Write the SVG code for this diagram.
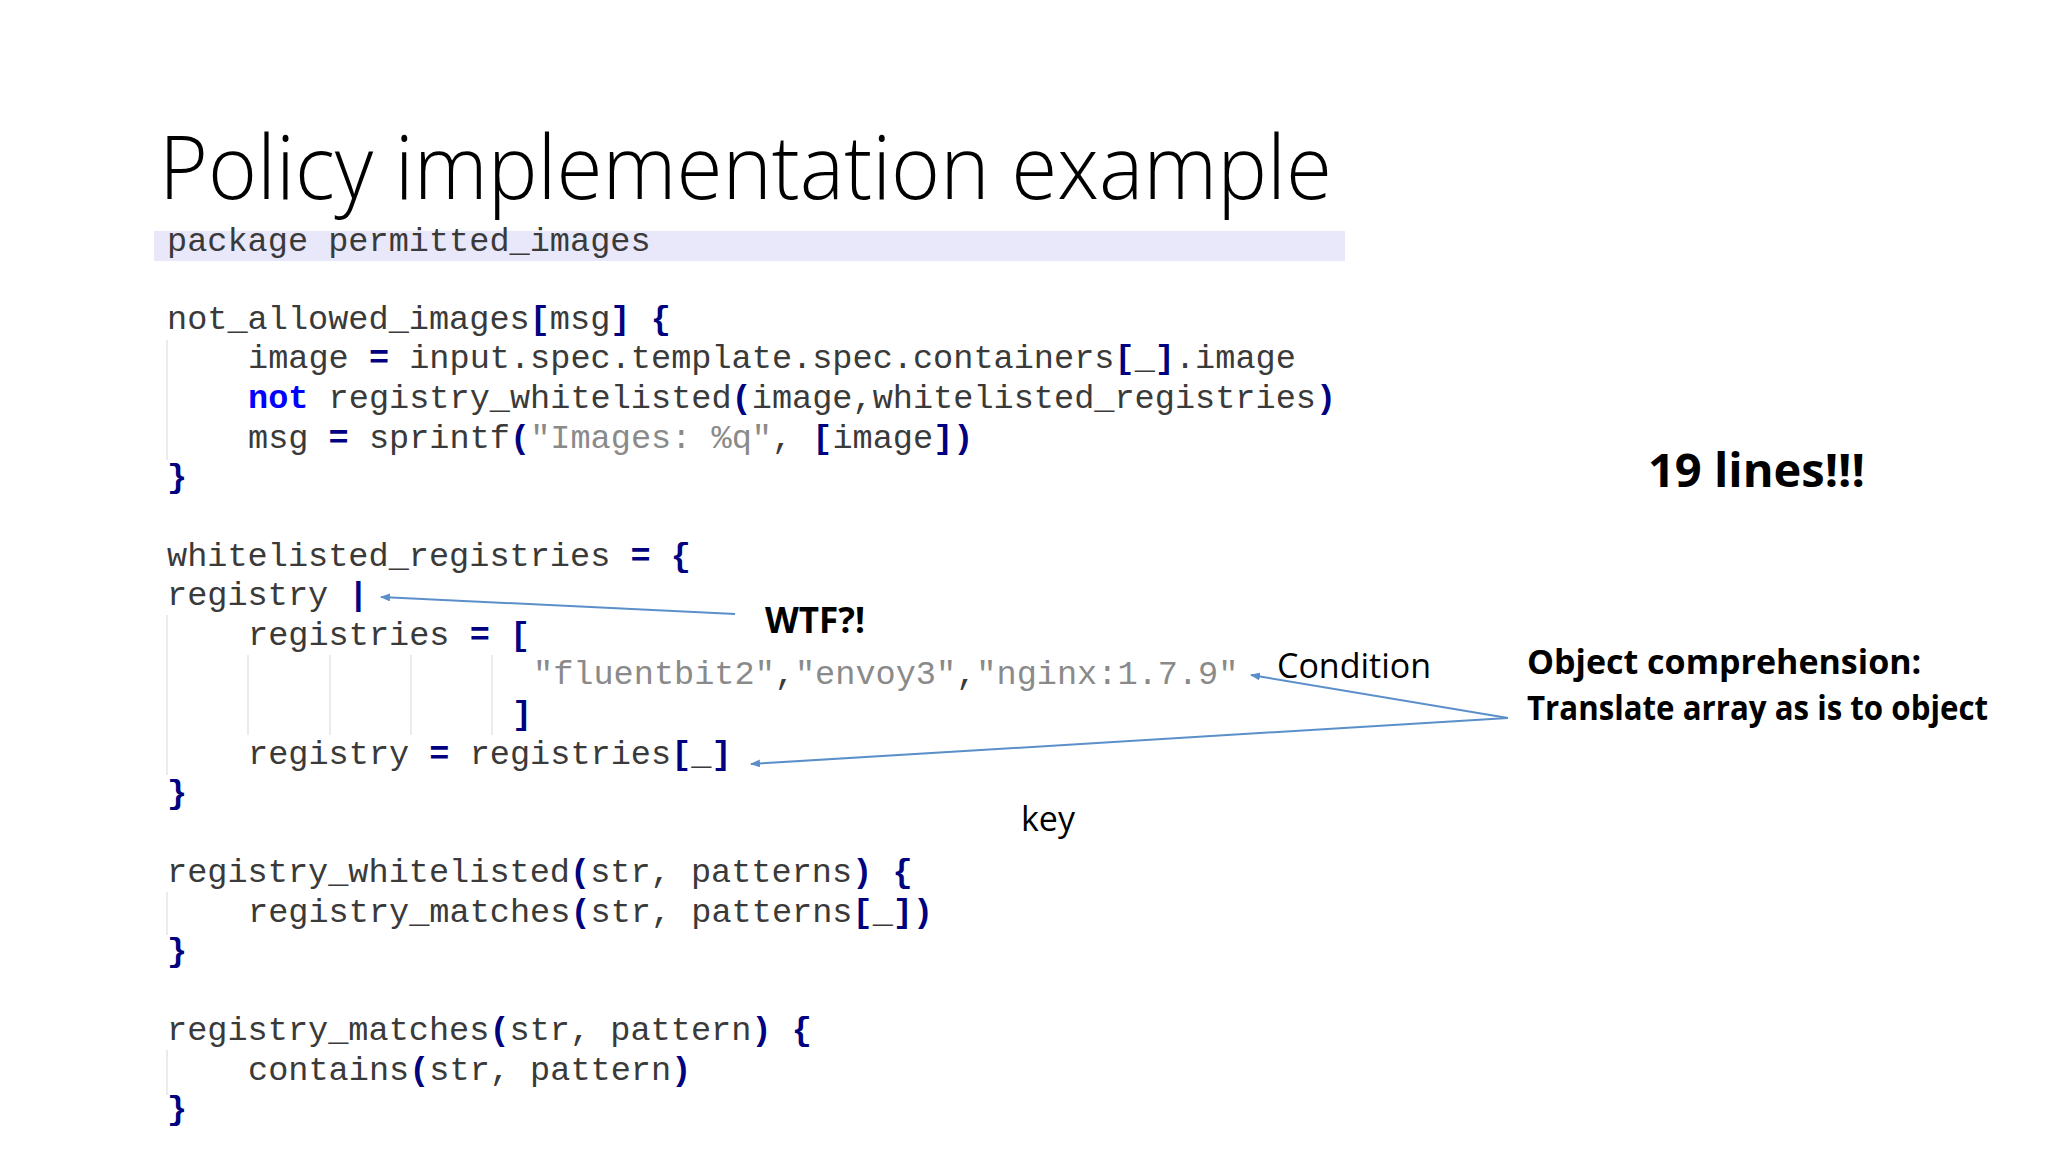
<svg xmlns="http://www.w3.org/2000/svg" width="2048" height="1152" viewBox="0 0 2048 1152">
<style>
.c{font-family:"Liberation Mono",monospace;font-size:33.6px;fill:#3a3a3a;white-space:pre}
.k{fill:#000080;font-weight:bold}
.n{fill:#0000ff;font-weight:bold}
.s{fill:#8a8a8a}
.lbl{font-family:"Open Sans","Liberation Sans",sans-serif;fill:#000}
.b{font-weight:bold}
.g{stroke:#e4e4e4;stroke-width:1.5}
.a{stroke:#5b8fc9;stroke-width:2;fill:none;marker-end:url(#ah)}
</style>
<defs><marker id="ah" markerWidth="10" markerHeight="8" refX="9" refY="4" orient="auto" markerUnits="userSpaceOnUse"><path d="M0,0 L10,4 L0,8 z" fill="#5b8fc9"/></marker></defs>
<rect width="2048" height="1152" fill="#fff"/>
<g id="title"><text x="159" y="199" class="lbl" font-size="88" font-weight="300" textLength="1173" lengthAdjust="spacingAndGlyphs">Policy implementation example</text></g>
<g id="code">
<rect x="154" y="231" width="1191" height="30" fill="#e8e8fa"/>
<line class="g" x1="167" y1="340" x2="167" y2="460"/>
<line class="g" x1="167" y1="615" x2="167" y2="775"/>
<line class="g" x1="248" y1="655" x2="248" y2="735"/>
<line class="g" x1="330" y1="655" x2="330" y2="735"/>
<line class="g" x1="411" y1="655" x2="411" y2="735"/>
<line class="g" x1="492" y1="655" x2="492" y2="735"/>
<line class="g" x1="167" y1="892" x2="167" y2="935"/>
<line class="g" x1="167" y1="1050" x2="167" y2="1095"/>
<text class="c" x="167" y="251">package permitted_images</text>
<text class="c" x="167" y="329">not_allowed_images<tspan class="k">[</tspan>msg<tspan class="k">]</tspan> <tspan class="k">{</tspan></text>
<text class="c" x="248" y="368">image <tspan class="k">=</tspan> input.spec.template.spec.containers<tspan class="k">[</tspan>_<tspan class="k">]</tspan>.image</text>
<text class="c" x="248" y="408"><tspan class="n">not</tspan> registry_whitelisted<tspan class="k">(</tspan>image,whitelisted_registries<tspan class="k">)</tspan></text>
<text class="c" x="248" y="448">msg <tspan class="k">=</tspan> sprintf<tspan class="k">(</tspan><tspan class="s">"Images: %q"</tspan>, <tspan class="k">[</tspan>image<tspan class="k">])</tspan></text>
<text class="c k" x="167" y="487">}</text>
<text class="c" x="167" y="566">whitelisted_registries <tspan class="k">=</tspan> <tspan class="k">{</tspan></text>
<text class="c" x="167" y="605">registry <tspan class="k">|</tspan></text>
<text class="c" x="248" y="645">registries <tspan class="k">=</tspan> <tspan class="k">[</tspan></text>
<text class="c" x="533" y="684"><tspan class="s">"fluentbit2"</tspan>,<tspan class="s">"envoy3"</tspan>,<tspan class="s">"nginx:1.7.9"</tspan></text>
<text class="c k" x="512" y="724">]</text>
<text class="c" x="248" y="764">registry <tspan class="k">=</tspan> registries<tspan class="k">[</tspan>_<tspan class="k">]</tspan></text>
<text class="c k" x="167" y="803">}</text>
<text class="c" x="167" y="882">registry_whitelisted<tspan class="k">(</tspan>str, patterns<tspan class="k">)</tspan> <tspan class="k">{</tspan></text>
<text class="c" x="248" y="922">registry_matches<tspan class="k">(</tspan>str, patterns<tspan class="k">[</tspan>_<tspan class="k">])</tspan></text>
<text class="c k" x="167" y="961">}</text>
<text class="c" x="167" y="1040">registry_matches<tspan class="k">(</tspan>str, pattern<tspan class="k">)</tspan> <tspan class="k">{</tspan></text>
<text class="c" x="248" y="1080">contains<tspan class="k">(</tspan>str, pattern<tspan class="k">)</tspan></text>
<text class="c k" x="167" y="1119">}</text>
</g>
<g id="n-lines"><text class="lbl b" x="1648" y="487" font-size="47">19 lines!!!</text></g>
<g id="n-wtf"><text class="lbl b" x="765" y="633" font-size="35">WTF?!</text></g>
<g id="n-condition"><text class="lbl" x="1277" y="678" font-size="34">Condition</text></g>
<g id="n-object"><text class="lbl b" x="1527" y="674" font-size="34">Object comprehension:</text><text class="lbl b" x="1527" y="720" font-size="34" textLength="461" lengthAdjust="spacingAndGlyphs">Translate array as is to object</text></g>
<g id="n-key"><text class="lbl" x="1021" y="831" font-size="34">key</text></g>
<g id="connectors">
<line class="a" x1="735" y1="614" x2="381" y2="597"/>
<line class="a" x1="1508" y1="718" x2="1251" y2="675"/>
<line class="a" x1="1508" y1="718" x2="751" y2="764"/>
</g>
</svg>
